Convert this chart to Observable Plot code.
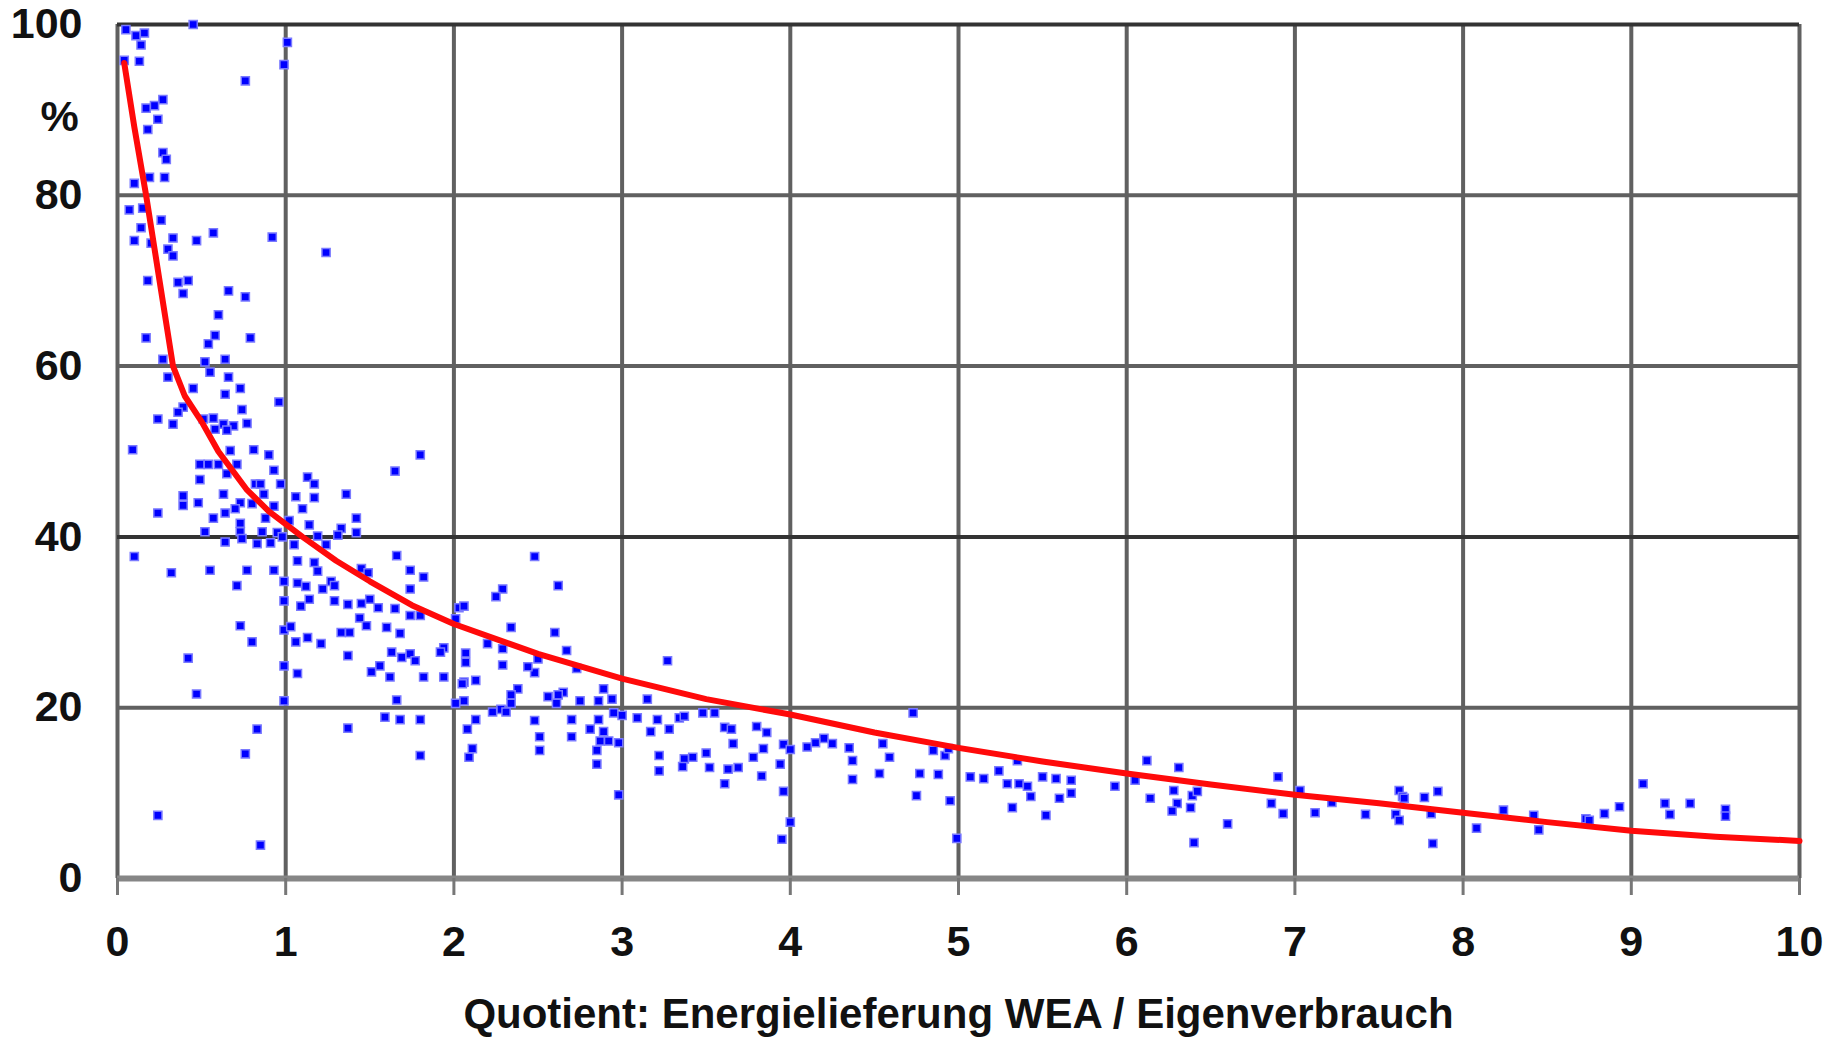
<!DOCTYPE html>
<html>
<head>
<meta charset="utf-8">
<script src="https://cdn.jsdelivr.net/npm/d3@7"></script>
<script src="https://cdn.jsdelivr.net/npm/@observablehq/plot@0.6"></script>
<style>
  body { margin: 0; background: #fff; }
  #chart { width: 1836px; height: 1040px; }
</style>
</head>
<body>
<div id="chart"></div>
<script>
// measured points: [quotient, share %]
const pointsTop = [
  [0.05,99.4],[0.11,98.7],[0.16,99],[0.14,97.6],[0.45,100],[1.01,97.9],[0.99,95.3],[0.04,95.8],[0.13,95.7],
  [0.76,93.4],[0.27,91.2],[0.22,90.5],[0.17,90.2],[0.24,88.9],[0.18,87.7],[0.27,85],[0.29,84.2],[0.19,82.1],
  [0.28,82.1],[0.1,81.4],[0.07,78.3],[0.15,78.5],[0.26,77.1],[0.14,76.2],[0.1,74.7],[0.33,75],[0.47,74.7],
  [0.57,75.6],[0.92,75.1],[1.24,73.3],[0.2,74.4],[0.3,73.7],[0.33,72.9],[0.18,70],[0.36,69.8],[0.42,70],
  [0.39,68.5],[0.66,68.8],[0.76,68.1],[0.6,66],[0.17,63.3],[0.58,63.6],[0.54,62.6],[0.79,63.3],[0.27,60.8],
  [0.52,60.5],[0.64,60.8]
];
const pointsMid = [
  [0.3,58.7],[0.55,59.3],[0.66,58.7],[0.45,57.4],[0.73,57.4],[0.64,56.7],[0.96,55.8],[0.39,55.2],[0.36,54.6],
  [0.74,54.9],[0.24,53.8],[0.33,53.2],[0.57,53.9],[0.51,53.8],[0.63,53.2],[0.69,53],[0.77,53.3],[0.58,52.6],
  [0.65,52.5],[0.09,50.2],[0.67,50.1],[0.81,50.2],[0.9,49.6],[1.8,49.6],[0.49,48.5],[0.54,48.5],[0.6,48.5],
  [0.71,48.5],[0.93,47.8],[1.65,47.7],[0.49,46.7],[0.65,47.4],[1.13,47],[1.17,46.2],[0.82,46.2],[0.85,46.2],
  [0.97,46.2],[0.39,44.8],[0.48,44],[0.63,45],[0.73,44],[0.8,43.9],[0.87,45],[1.06,44.7],[1.17,44.6],
  [1.36,45],[0.24,42.8],[0.39,43.7],[0.57,42.2],[0.64,42.8],[0.7,43.3],[0.93,43.6],[1.1,43.3],[0.73,41.6],
  [0.88,42.2],[1.02,41.9],[1.14,41.4],[1.33,41],[1.42,42.2],[0.52,40.6],[0.73,40.6],[0.86,40.6],[0.95,40.5],
  [1.42,40.5],[1.19,40.1],[1.31,40.2]
];
const pointsLow = [
  [0.64,39.4],[0.74,39.8],[0.83,39.2],[0.91,39.3],[0.98,40],[1.05,39.1],[1.24,39.1],[0.1,37.7],[0.32,35.8],
  [0.55,36.1],[0.77,36.1],[0.93,36.1],[1.07,37.2],[1.17,37],[1.66,37.8],[1.74,36.1],[1.82,35.3],[1.19,36],
  [1.27,34.8],[1.45,36.3],[1.49,35.8],[0.99,34.8],[1.07,34.6],[1.12,34.2],[0.71,34.3],[1.22,33.9],[1.29,34.3],
  [1.74,33.9],[0.99,32.5],[1.09,31.9],[1.14,32.7],[1.29,32.5],[1.37,32.1],[1.45,32.2],[1.5,32.7],[1.55,31.7],
  [1.65,31.6],[1.74,30.8],[1.8,30.8],[2.03,31.7],[1.44,30.5],[0.73,29.6],[0.99,29.1],[1.03,29.5],[0.8,27.7],
  [1.06,27.7],[1.13,28.2],[1.21,27.5],[1.33,28.8],[1.38,28.8],[1.48,29.6],[1.6,29.4],[1.68,28.7],[1.63,26.5],
  [1.69,25.9],[1.74,26.3],[1.77,25.5],[1.94,27],[1.92,26.5],[1.37,26.1],[0.42,25.8],[0.99,24.9],[1.07,24],
  [1.56,24.9],[1.51,24.2],[1.62,23.6],[1.82,23.6],[1.94,23.6],[2.06,23],[0.47,21.6],[0.99,20.8],[1.66,20.9],
  [2.06,20.8],[1.59,18.9],[1.68,18.6],[1.8,18.6],[0.83,17.5],[1.37,17.6],[0.76,14.6],[1.8,14.4],[0.24,7.4],
  [0.85,3.9]
];
const pointsCenter = [
  [2.48,37.7],[2.62,34.3],[2.29,33.9],[2.25,33],[2.06,31.9],[2.01,30.4],[2.34,29.4],[2.6,28.8],[2.2,27.5],
  [2.29,26.9],[2.67,26.7],[2.07,26.4],[2.07,25.3],[2.29,25],[2.5,25.7],[2.48,24.1],[2.44,24.8],[2.73,24.6],
  [3.27,25.5],[2.05,22.8],[2.13,23.2],[2.38,22.2],[2.34,21.5],[2.65,21.8],[2.56,21.3],[2.62,21.5],[2.89,22.2],
  [2.94,21],[3.15,21],[2.75,20.8],[2.86,20.8],[2.34,20.5],[2.61,20.5],[2.01,20.5],[2.28,19.8],[2.23,19.5],
  [2.31,19.5],[2.48,18.5],[2.95,19.4],[3.0,19.1],[3.09,18.8],[3.21,18.6],[3.34,18.8],[3.37,19],[3.48,19.4],
  [3.55,19.4],[2.13,18.6],[2.7,18.6],[2.86,18.6],[2.08,17.5],[2.81,17.5],[2.89,17.2],[3.17,17.2],[3.28,17.5],
  [3.61,17.7],[3.65,17.5],[3.8,17.8],[3.86,17.1],[2.51,16.6],[2.7,16.6],[2.87,16.1],[2.92,16.1],[2.98,15.9],
  [3.66,15.8],[3.84,15.2],[3.96,15.7],[4.0,15.1],[4.2,16.4],[4.15,15.9],[4.1,15.4],[2.11,15.2],[2.09,14.2],
  [2.51,15],[2.85,15],[3.22,14.4],[3.37,14],[3.42,14.2],[3.5,14.7],[3.78,14.2],[3.94,13.4],[2.85,13.4],
  [3.36,13.1],[3.52,13],[3.63,12.8],[3.69,13],[3.22,12.6],[3.83,12],[3.61,11.1],[2.98,9.8],[3.96,10.2],
  [4.0,6.6],[3.95,4.6]
];
const pointsRight = [
  [4.73,19.4],[4.25,15.8],[4.35,15.3],[4.55,15.8],[4.37,13.8],[4.59,14.2],[4.85,15],[4.92,14.4],[4.94,15.2],
  [4.37,11.6],[4.53,12.3],[4.77,12.3],[4.88,12.2],[4.75,9.7],[4.95,9.1],[4.99,4.7],[5.07,11.9],[5.15,11.7],
  [5.24,12.6],[5.29,11.1],[5.36,11.1],[5.41,10.8],[5.43,9.6],[5.5,11.9],[5.58,11.7],[5.67,11.5],[5.67,10],
  [5.6,9.4],[5.32,8.3],[5.52,7.4],[5.35,13.8],[5.93,10.8],[6.05,11.5],[6.12,13.8],[6.14,9.4],[6.31,13],
  [6.28,10.3],[6.3,8.8],[6.27,7.9],[6.38,8.3],[6.39,9.7],[6.42,10.2],[6.6,6.4],[6.4,4.2],[6.9,11.9],
  [6.86,8.8],[6.93,7.6],[7.03,10.3],[7.12,7.7],[7.22,8.9],[7.42,7.5],[7.62,10.3],[7.64,9.6],[7.65,9.4],
  [7.6,7.5],[7.62,6.8],[7.77,9.5],[7.85,10.2],[7.81,7.6],[7.82,4.1],[8.08,5.9],[8.24,8],[8.42,7.4],
  [8.45,5.7],[8.73,7],[8.75,6.8],[8.84,7.6],[8.93,8.4],[9.07,11.1],[9.2,8.8],[9.23,7.5],[9.35,8.8],
  [9.56,8.1],[9.56,7.3]
];

// red fit curve
const fitX = [0.04,0.1,0.17,0.25,0.33,0.4,0.5,0.6,0.77,0.9,1.1,1.3,1.5,1.75,2,2.5,3,3.5,4,4.5,5,5.5,6,6.5,7,7.5,8,8.5,9,9.5,10];
const fitY = [95.5,88,80,70,60,56.5,53.5,50,45.5,43,40,37.2,34.8,32,29.8,26.3,23.4,21,19.2,17.1,15.3,13.7,12.3,11,9.8,8.8,7.7,6.6,5.6,4.9,4.4];

const xTicks = [0,1,2,3,4,5,6,7,8,9,10];
const yTicks = [0,20,40,60,80,100];
const xLabel = "Quotient: Energielieferung WEA / Eigenverbrauch";
const yUnit = "%";

const points = [...pointsTop, ...pointsMid, ...pointsLow, ...pointsCenter, ...pointsRight];
const fit = fitX.map((x, i) => ({x, y: fitY[i]}));

const chart = Plot.plot({
  width: 1836,
  height: 1040,
  marginLeft: 117,
  marginRight: 37,
  marginTop: 24,
  marginBottom: 162,
  style: {fontFamily: "'Liberation Sans', Arial, sans-serif", color: "#111", background: "#fff"},
  x: {domain: [0, 10]},
  y: {domain: [0, 100]},
  marks: [
    Plot.gridX(xTicks, {stroke: "#606060", strokeOpacity: 1, strokeWidth: 4}),
    Plot.gridY([20, 60, 80], {stroke: "#606060", strokeOpacity: 1, strokeWidth: 4}),
    Plot.gridY([40, 100], {stroke: "#333", strokeOpacity: 1, strokeWidth: 4}),
    Plot.ruleY([0], {stroke: "#868686", strokeWidth: 6}),
    Plot.axisX({ticks: xTicks, tickSize: 17, tickPadding: 30, stroke: "#777", strokeWidth: 3,
      fontSize: 43, fontWeight: "bold", label: null}),
    Plot.axisY({ticks: yTicks, tickSize: 0, tickPadding: 35, fontSize: 43, fontWeight: "bold", label: null}),
    Plot.dot(points, {x: d => d[0], y: d => d[1], symbol: "square", r: 4.6,
      fill: "#0000ff", stroke: "#7a7aff", strokeWidth: 1.5}),
    Plot.line(fit, {x: "x", y: "y", stroke: "#ff0a0a", strokeWidth: 6}),
    Plot.text([yUnit], {frameAnchor: "top-left", dx: -77, dy: 76, fontSize: 43, fontWeight: "bold"}),
    Plot.text([xLabel], {frameAnchor: "bottom", dx: 0, dy: 149, fontSize: 42, fontWeight: "bold"})
  ]
});

document.getElementById("chart").append(chart);
</script>
</body>
</html>
